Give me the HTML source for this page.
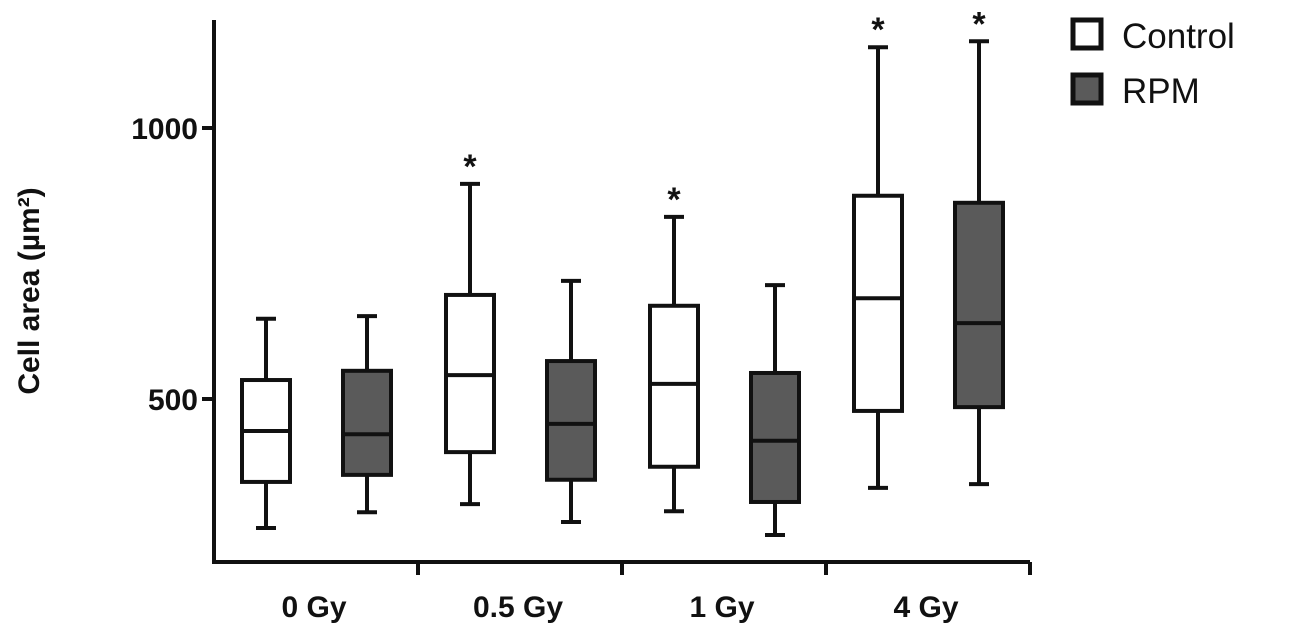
<!DOCTYPE html>
<html><head><meta charset="utf-8"><style>
body{margin:0;background:#fff;}
svg{display:block;font-family:"Liberation Sans",Arial,sans-serif;}
</style></head><body>
<svg id="chart" width="1299" height="625">
<g id="plot"></g>
</svg>
<script>
const categories=["0 Gy","0.5 Gy","1 Gy","4 Gy"];
const seriesNames=["Control","RPM"];
const ctrlMin=[262,306,293,336];
const ctrlQ1=[347,402,375,478];
const ctrlMed=[441,544,528,686];
const ctrlQ3=[535,692,672,875];
const ctrlMax=[648,897,836,1149];
const rpmMin=[291,273,249,343];
const rpmQ1=[360,351,310,485];
const rpmMed=[435,454,423,640];
const rpmQ3=[552,570,548,862];
const rpmMax=[653,718,710,1160];
const ctrlSig=[false,true,true,true];
const rpmSig=[false,false,false,true];
const yTicks=[500,1000];

const NS="http://www.w3.org/2000/svg";
const g=document.getElementById('plot');
const x0=214,x1=1030,yTop=20,yBot=562;
function yS(v){return 670-v*0.542;}
const groupW=(x1-x0)/categories.length;
function mk(t,a,p){const e=document.createElementNS(NS,t);for(const k in a)e.setAttribute(k,a[k]);(p||g).appendChild(e);return e;}
const S={stroke:"#111","stroke-width":4,fill:"none"};
let e=mk('line',{x1:x0,y1:yTop,x2:x0,y2:yBot,...S});


e=mk('line',{x1:x0-2,y1:yBot,x2:x1,y2:yBot,...S});


yTicks.forEach(v=>{
 const t=mk('line',{x1:x0-12,y1:yS(v),x2:x0,y2:yS(v),...S});
 
 
 const l=mk('text',{x:x0-16,y:yS(v)+11,'text-anchor':'end','font-size':30,'font-weight':'bold',fill:'#111'});
 l.textContent=v;
 
 
});
categories.forEach((c,i)=>{
 const xe=x0+groupW*(i+1);
 const t=mk('line',{x1:xe,y1:yBot,x2:xe,y2:yBot+13,...S});
 
 
 const l=mk('text',{x:x0+groupW*(i+0.5)-2,y:617,'text-anchor':'middle','font-size':30,'font-weight':'bold',fill:'#111'});
 l.textContent=c;
 
 
});
const yt=mk('text',{x:0,y:0,transform:'translate(39,291) rotate(-90)','text-anchor':'middle','font-size':30,'font-weight':'bold',fill:'#111'});
yt.textContent='Cell area (µm²)';


function box(cx,mn,q1,md,q3,mx,fill,sig,name){
 const bg=mk('g',{});
 
 
 const w=48;
 mk('line',{x1:cx,y1:yS(mx),x2:cx,y2:yS(q3),...S},bg);
 mk('line',{x1:cx,y1:yS(q1),x2:cx,y2:yS(mn),...S},bg);
 mk('line',{x1:cx-10,y1:yS(mx),x2:cx+10,y2:yS(mx),...S},bg);
 mk('line',{x1:cx-10,y1:yS(mn),x2:cx+10,y2:yS(mn),...S},bg);
 mk('rect',{x:cx-w/2,y:yS(q3),width:w,height:yS(q1)-yS(q3),stroke:"#111","stroke-width":4,fill:fill},bg);
 mk('line',{x1:cx-w/2,y1:yS(md),x2:cx+w/2,y2:yS(md),...S},bg);
 if(sig){const s=mk('text',{x:cx,y:yS(mx)-6,'text-anchor':'middle','font-size':34,'font-weight':'bold',fill:'#111'},bg);s.textContent='*';}
}
categories.forEach((c,i)=>{
 const gx=x0+groupW*i;
 box(gx+52,ctrlMin[i],ctrlQ1[i],ctrlMed[i],ctrlQ3[i],ctrlMax[i],'#fff',ctrlSig[i],'box-control-'+i);
 box(gx+153,rpmMin[i],rpmQ1[i],rpmMed[i],rpmQ3[i],rpmMax[i],'#5a5a5a',rpmSig[i],'box-rpm-'+i);
});
seriesNames.forEach((n,i)=>{
 const lg=mk('g',{});
 
 
 mk('rect',{x:1073,y:20+i*55,width:28,height:28,stroke:'#111','stroke-width':5,fill:i?'#5a5a5a':'#fff'},lg);
 const t=mk('text',{x:1122,y:48+i*55,'font-size':35,fill:'#111'},lg);
 t.textContent=n;
});
</script>
</body></html>
